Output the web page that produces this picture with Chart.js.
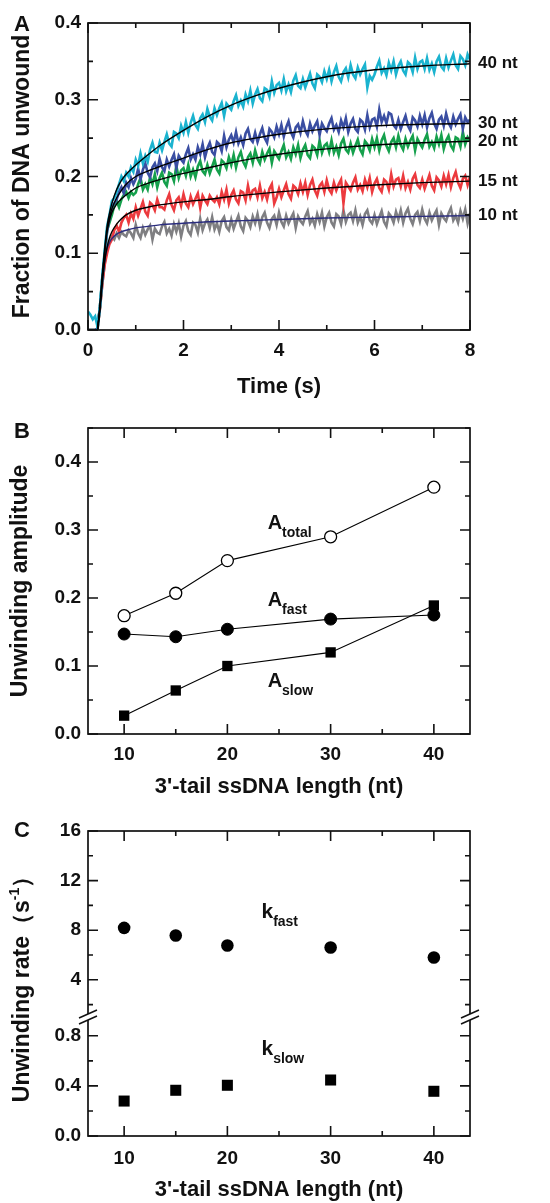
<!DOCTYPE html>
<html>
<head>
<meta charset="utf-8">
<script src="https://cdn.jsdelivr.net/npm/chart.js@4.4.0/dist/chart.umd.min.js"></script>
<style>
  body { margin: 0; background: #fff; width: 550px; height: 1203px; position: relative; overflow: hidden; }
  canvas { position: absolute; left: 0; }
</style>
</head>
<body>
<canvas id="chartA" width="550" height="400" style="top:0px"></canvas>
<canvas id="chartB" width="550" height="400" style="top:400px"></canvas>
<canvas id="chartC" width="550" height="403" style="top:800px"></canvas>
<script>
// ---- panel A : unwinding time courses (one row = 1 s) ----
const time = [0,0.05,0.1,0.15,0.2,0.25,0.3,0.35,0.4,0.45,0.5,0.55,0.6,0.65,0.7,0.75,0.8,0.85,0.9,0.95,
  1,1.05,1.1,1.15,1.2,1.25,1.3,1.35,1.4,1.45,1.5,1.55,1.6,1.65,1.7,1.75,1.8,1.85,1.9,1.95,
  2,2.05,2.1,2.15,2.2,2.25,2.3,2.35,2.4,2.45,2.5,2.55,2.6,2.65,2.7,2.75,2.8,2.85,2.9,2.95,
  3,3.05,3.1,3.15,3.2,3.25,3.3,3.35,3.4,3.45,3.5,3.55,3.6,3.65,3.7,3.75,3.8,3.85,3.9,3.95,
  4,4.05,4.1,4.15,4.2,4.25,4.3,4.35,4.4,4.45,4.5,4.55,4.6,4.65,4.7,4.75,4.8,4.85,4.9,4.95,
  5,5.05,5.1,5.15,5.2,5.25,5.3,5.35,5.4,5.45,5.5,5.55,5.6,5.65,5.7,5.75,5.8,5.85,5.9,5.95,
  6,6.05,6.1,6.15,6.2,6.25,6.3,6.35,6.4,6.45,6.5,6.55,6.6,6.65,6.7,6.75,6.8,6.85,6.9,6.95,
  7,7.05,7.1,7.15,7.2,7.25,7.3,7.35,7.4,7.45,7.5,7.55,7.6,7.65,7.7,7.75,7.8,7.85,7.9,7.95,
  8];

const trace40 = [0.024,0.02,0.014,0.018,0.004,0.03,0.07,0.103,0.135,0.15,0.168,0.172,0.18,0.19,0.2,0.194,0.205,0.2,0.212,0.206,
  0.222,0.214,0.23,0.217,0.227,0.219,0.235,0.244,0.232,0.231,0.244,0.234,0.245,0.255,0.243,0.239,0.258,0.256,0.25,0.266,
  0.257,0.271,0.257,0.27,0.279,0.267,0.262,0.276,0.281,0.271,0.288,0.278,0.273,0.289,0.28,0.289,0.296,0.279,0.295,0.291,
  0.287,0.298,0.306,0.292,0.299,0.291,0.307,0.298,0.312,0.295,0.307,0.314,0.302,0.298,0.315,0.313,0.304,0.324,0.309,0.319,
  0.322,0.312,0.327,0.311,0.32,0.31,0.325,0.332,0.318,0.315,0.327,0.316,0.325,0.334,0.321,0.315,0.333,0.33,0.323,0.337,
  0.327,0.339,0.324,0.336,0.344,0.33,0.324,0.336,0.341,0.329,0.345,0.333,0.328,0.342,0.333,0.34,0.346,0.316,0.331,0.326,
  0.333,0.343,0.351,0.335,0.341,0.332,0.348,0.338,0.35,0.333,0.344,0.35,0.338,0.333,0.349,0.346,0.336,0.355,0.34,0.349,
  0.351,0.34,0.354,0.339,0.347,0.336,0.35,0.356,0.343,0.339,0.354,0.342,0.351,0.359,0.345,0.34,0.357,0.353,0.345,0.359,
  0.352];
const trace30 = [0,0,0,0,0.002,0.03,0.068,0.1,0.128,0.146,0.16,0.165,0.17,0.18,0.186,0.178,0.192,0.186,0.198,0.19,
  0.197,0.21,0.196,0.209,0.217,0.205,0.199,0.212,0.217,0.207,0.223,0.212,0.207,0.222,0.213,0.222,0.229,0.211,0.227,0.222,
  0.218,0.229,0.237,0.222,0.229,0.222,0.238,0.229,0.242,0.225,0.237,0.244,0.232,0.228,0.245,0.242,0.233,0.253,0.238,0.248,
  0.254,0.244,0.258,0.243,0.251,0.241,0.256,0.262,0.249,0.245,0.257,0.245,0.255,0.263,0.25,0.244,0.262,0.258,0.251,0.265,
  0.255,0.267,0.252,0.264,0.272,0.258,0.251,0.264,0.268,0.257,0.272,0.26,0.254,0.269,0.259,0.266,0.272,0.254,0.269,0.263,
  0.259,0.269,0.276,0.261,0.267,0.258,0.273,0.264,0.276,0.258,0.269,0.275,0.262,0.258,0.274,0.271,0.261,0.28,0.264,0.274,
  0.276,0.265,0.287,0.271,0.279,0.269,0.283,0.281,0.267,0.263,0.274,0.262,0.271,0.279,0.266,0.26,0.277,0.273,0.265,0.279,
  0.268,0.28,0.264,0.276,0.283,0.269,0.262,0.274,0.278,0.266,0.282,0.27,0.264,0.278,0.268,0.275,0.281,0.262,0.277,0.271,
  0.274];
const trace20 = [0,0,0,0,0.002,0.03,0.068,0.1,0.13,0.14,0.15,0.162,0.168,0.16,0.17,0.176,0.18,0.172,0.18,0.176,
  0.179,0.19,0.198,0.183,0.19,0.183,0.199,0.19,0.203,0.186,0.198,0.205,0.193,0.188,0.205,0.203,0.194,0.214,0.198,0.208,
  0.211,0.201,0.215,0.2,0.209,0.199,0.213,0.22,0.207,0.203,0.215,0.204,0.213,0.222,0.209,0.204,0.221,0.218,0.211,0.225,
  0.215,0.228,0.212,0.225,0.232,0.219,0.213,0.225,0.23,0.218,0.234,0.223,0.217,0.232,0.222,0.23,0.236,0.218,0.233,0.228,
  0.223,0.233,0.241,0.225,0.232,0.223,0.238,0.229,0.241,0.224,0.235,0.241,0.228,0.224,0.24,0.237,0.228,0.247,0.231,0.24,
  0.243,0.232,0.247,0.231,0.239,0.228,0.243,0.249,0.235,0.231,0.243,0.231,0.24,0.248,0.235,0.229,0.246,0.242,0.234,0.249,
  0.238,0.25,0.234,0.247,0.254,0.24,0.233,0.245,0.25,0.238,0.253,0.241,0.235,0.249,0.239,0.247,0.253,0.234,0.249,0.243,
  0.238,0.248,0.255,0.239,0.245,0.237,0.252,0.242,0.254,0.236,0.247,0.253,0.24,0.235,0.251,0.249,0.239,0.258,0.242,0.251,
  0.246];
const trace15 = [0,0,0,0,0.002,0.028,0.06,0.085,0.1,0.112,0.118,0.13,0.136,0.128,0.14,0.146,0.15,0.14,0.152,0.145,
  0.16,0.149,0.158,0.167,0.154,0.149,0.166,0.163,0.156,0.17,0.16,0.16,0.157,0.169,0.177,0.163,0.156,0.169,0.173,0.162,
  0.177,0.165,0.16,0.174,0.164,0.171,0.178,0.159,0.175,0.169,0.164,0.175,0.17,0.167,0.173,0.164,0.18,0.17,0.183,0.165,
  0.176,0.182,0.17,0.165,0.181,0.179,0.169,0.188,0.173,0.182,0.184,0.173,0.188,0.172,0.18,0.17,0.184,0.19,0.165,0.173,
  0.184,0.173,0.182,0.19,0.177,0.171,0.188,0.185,0.177,0.191,0.18,0.192,0.176,0.189,0.196,0.182,0.175,0.188,0.192,0.18,
  0.195,0.183,0.178,0.192,0.182,0.19,0.196,0.165,0.192,0.187,0.182,0.192,0.199,0.183,0.189,0.181,0.196,0.186,0.198,0.18,
  0.191,0.197,0.185,0.18,0.196,0.193,0.183,0.203,0.187,0.196,0.198,0.187,0.201,0.185,0.193,0.183,0.197,0.203,0.189,0.185,
  0.196,0.184,0.193,0.202,0.188,0.182,0.199,0.195,0.187,0.201,0.19,0.202,0.186,0.198,0.206,0.192,0.185,0.197,0.201,0.189,
  0.2];
const trace10 = [0,0,0,0,0.002,0.028,0.06,0.088,0.108,0.116,0.122,0.118,0.126,0.12,0.128,0.124,0.122,0.13,0.126,0.12,
  0.137,0.126,0.12,0.133,0.124,0.131,0.136,0.118,0.132,0.127,0.125,0.135,0.141,0.126,0.132,0.123,0.138,0.128,0.139,0.122,
  0.136,0.142,0.129,0.124,0.14,0.137,0.127,0.145,0.13,0.139,0.144,0.133,0.147,0.131,0.139,0.128,0.142,0.147,0.134,0.13,
  0.144,0.132,0.141,0.149,0.135,0.129,0.146,0.142,0.134,0.148,0.139,0.151,0.135,0.147,0.153,0.14,0.133,0.145,0.149,0.137,
  0.153,0.141,0.135,0.149,0.139,0.146,0.152,0.133,0.148,0.142,0.138,0.148,0.155,0.139,0.145,0.136,0.151,0.141,0.153,0.135,
  0.147,0.153,0.14,0.135,0.151,0.148,0.138,0.156,0.141,0.15,0.153,0.142,0.156,0.14,0.148,0.137,0.151,0.156,0.143,0.139,
  0.15,0.138,0.147,0.155,0.141,0.135,0.152,0.148,0.14,0.154,0.144,0.156,0.14,0.152,0.158,0.145,0.138,0.15,0.154,0.142,
  0.157,0.145,0.139,0.153,0.143,0.15,0.156,0.137,0.152,0.146,0.142,0.152,0.159,0.143,0.149,0.14,0.155,0.145,0.157,0.139,
  0.152];

// fitted curves
const fitTime = [0.2,0.25,0.3,0.35,0.4,0.45,0.5,0.6,0.7,0.8,1.0,1.25,1.5,2,2.5,3,3.5,4,5,6,7,8];
const fit40 = [0,0.03,0.07,0.105,0.135,0.152,0.165,0.183,0.195,0.203,0.215,0.228,0.24,0.26,0.278,0.293,0.305,0.315,0.33,0.339,0.344,0.347];
const fit30 = [0,0.03,0.07,0.103,0.13,0.147,0.158,0.172,0.182,0.19,0.2,0.207,0.213,0.224,0.235,0.244,0.25,0.255,0.262,0.266,0.268,0.269];
const fit20 = [0,0.03,0.07,0.102,0.128,0.143,0.153,0.164,0.171,0.176,0.185,0.191,0.196,0.204,0.211,0.218,0.224,0.229,0.236,0.241,0.244,0.246];
const fit15 = [0,0.028,0.062,0.09,0.108,0.12,0.128,0.138,0.145,0.15,0.156,0.16,0.163,0.167,0.17,0.174,0.177,0.18,0.185,0.189,0.192,0.194];
const fit10 = [0,0.028,0.062,0.09,0.106,0.114,0.119,0.125,0.128,0.13,0.133,0.135,0.137,0.139,0.141,0.142,0.143,0.144,0.146,0.147,0.148,0.149];
const traceLabels = ['40 nt', '30 nt', '20 nt', '15 nt', '10 nt'];

// ---- panel B : amplitudes ----
const lengths = [10, 15, 20, 30, 40];
const aTotal = [0.174, 0.207, 0.255, 0.290, 0.363];
const aFast = [0.147, 0.143, 0.154, 0.169, 0.175];
const aSlow = [0.027, 0.064, 0.100, 0.120, 0.189];

// ---- panel C : rates ----
const kFast = [8.19, 7.57, 6.77, 6.6, 5.8];
const kSlow = [0.279, 0.365, 0.405, 0.447, 0.357];

const FONT = "'Liberation Sans', Arial, Helvetica, sans-serif";
Chart.defaults.font.family = FONT;
Chart.defaults.font.weight = 'bold';
Chart.defaults.color = '#111';

const pts = (xs, ys) => ys.map((v, i) => ({x: xs[i], y: v}));

// box frame + inward ticks on all four sides
const frameTicks = {
  id: 'frameTicks',
  afterDatasetsDraw(chart) {
    const ctx = chart.ctx, a = chart.chartArea;
    ctx.save();
    ctx.strokeStyle = '#111';
    ctx.lineWidth = 1.7;
    ctx.strokeRect(a.left, a.top, a.right - a.left, a.bottom - a.top);
    ctx.lineWidth = 1.6;
    const tickSet = (scale) => {
      const major = scale.ticks.map(t => t.value);
      const step = major[1] - major[0];
      const minor = [];
      for (let v = major[0] - step / 2; v <= scale.max + 1e-9; v += step) {
        if (v >= scale.min - 1e-9) minor.push(v);
      }
      return {major, minor};
    };
    Object.values(chart.scales).forEach(scale => {
      const {major, minor} = tickSet(scale);
      const draw = (v, len) => {
        const p = scale.getPixelForValue(v);
        ctx.beginPath();
        if (scale.isHorizontal()) {
          ctx.moveTo(p, a.bottom); ctx.lineTo(p, a.bottom - len);
          ctx.moveTo(p, a.top); ctx.lineTo(p, a.top + len);
        } else {
          ctx.moveTo(a.left, p); ctx.lineTo(a.left + len, p);
          ctx.moveTo(a.right, p); ctx.lineTo(a.right - len, p);
        }
        ctx.stroke();
      };
      major.forEach(v => draw(v, 10));
      minor.forEach(v => draw(v, 5));
    });
    ctx.restore();
  }
};

function panelLetter(ctx, letter, x, y) {
  ctx.save();
  ctx.fillStyle = '#111';
  ctx.font = `bold 22px ${FONT}`;
  ctx.textBaseline = 'alphabetic';
  ctx.fillText(letter, x, y);
  ctx.restore();
}

function subLabel(ctx, x, y, main, sub, size, subSize) {
  ctx.save();
  ctx.fillStyle = '#111';
  ctx.textBaseline = 'alphabetic';
  ctx.font = `bold ${size}px ${FONT}`;
  ctx.fillText(main, x, y);
  const w = ctx.measureText(main).width;
  ctx.font = `bold ${subSize}px ${FONT}`;
  ctx.fillText(sub, x + w, y + 8);
  ctx.restore();
}

const baseOpts = {
  responsive: false,
  animation: false,
  devicePixelRatio: 1,
  plugins: { legend: { display: false }, tooltip: { enabled: false } },
};

const axisCommon = {
  grid: { display: false, drawTicks: false },
  border: { display: false },
};

// ---------- Panel A ----------
const traceColors = ['#1bb3cf', '#3a4ea2', '#15a04c', '#ec3a3e', '#7f7f82'];
const traces = [trace40, trace30, trace20, trace15, trace10];
const fits = [fit40, fit30, fit20, fit15, fit10];
const fitColors = ['#000', '#000', '#000', '#000', '#2b2d7e'];

new Chart(document.getElementById('chartA'), {
  type: 'line',
  data: {
    datasets: [
      ...fits.map((f, i) => ({
        data: pts(fitTime, f), borderColor: fitColors[i], borderWidth: 1.4,
        cubicInterpolationMode: 'monotone', pointRadius: 0
      })),
      ...traces.map((t, i) => ({
        data: pts(time, t), borderColor: traceColors[i], borderWidth: 2.6,
        tension: 0, pointRadius: 0
      }))
    ]
  },
  options: {
    ...baseOpts,
    layout: { padding: { left: 0, right: 80, top: 23, bottom: 0 } },
    scales: {
      x: {
        ...axisCommon, type: 'linear', min: 0, max: 8,
        ticks: { stepSize: 2, includeBounds: false, padding: 9, font: { size: 19 } },
        title: { display: true, text: 'Time (s)', font: { size: 22, lineHeight: 1 }, padding: { top: 0, bottom: 2 } },
        afterFit: s => { s.height = 70; }
      },
      y: {
        ...axisCommon, type: 'linear', min: 0, max: 0.4,
        ticks: { stepSize: 0.1, includeBounds: false, padding: 7, font: { size: 19 }, callback: v => v.toFixed(1) },
        title: { display: true, text: 'Fraction of DNA unwound', font: { size: 23, lineHeight: 1 }, padding: { top: 11, bottom: 0 } },
        afterFit: s => { s.width = 88; }
      }
    }
  },
  plugins: [frameTicks, {
    id: 'labelsA',
    afterDraw(chart) {
      const ctx = chart.ctx, y = chart.scales.y, a = chart.chartArea;
      ctx.save();
      ctx.fillStyle = '#111';
      ctx.font = `bold 17px ${FONT}`;
      ctx.textBaseline = 'middle';
      fits.forEach((f, i) => ctx.fillText(traceLabels[i], a.right + 8, y.getPixelForValue(f[f.length - 1])));
      ctx.restore();
      panelLetter(ctx, 'A', 14, 31);
    }
  }]
});

// ---------- Panel B ----------
new Chart(document.getElementById('chartB'), {
  type: 'line',
  data: {
    datasets: [
      { data: pts(lengths, aFast), borderColor: '#000', borderWidth: 1.1, pointStyle: 'circle',
        pointRadius: 6, pointBackgroundColor: '#000', pointBorderColor: '#000', pointBorderWidth: 1 },
      { data: pts(lengths, aSlow), borderColor: '#000', borderWidth: 1.1, pointStyle: 'rect',
        pointRadius: 7.3, pointBackgroundColor: '#000', pointBorderColor: '#000', pointBorderWidth: 0 },
      { data: pts(lengths, aTotal), borderColor: '#000', borderWidth: 1.1, pointStyle: 'circle',
        pointRadius: 6, pointBackgroundColor: '#fff', pointBorderColor: '#000', pointBorderWidth: 1.3 }
    ]
  },
  options: {
    ...baseOpts,
    layout: { padding: { left: 0, right: 80, top: 28, bottom: 0 } },
    scales: {
      x: {
        ...axisCommon, type: 'linear', min: 6.5, max: 43.5,
        ticks: { stepSize: 10, includeBounds: false, padding: 9, font: { size: 19 } },
        title: { display: true, text: "3'-tail ssDNA length (nt)", font: { size: 22, lineHeight: 1 }, padding: { top: 0, bottom: 2 } },
        afterFit: s => { s.height = 66; }
      },
      y: {
        ...axisCommon, type: 'linear', min: 0, max: 0.45,
        ticks: { stepSize: 0.1, includeBounds: false, padding: 7, font: { size: 19 }, callback: v => v.toFixed(1) },
        title: { display: true, text: 'Unwinding amplitude', font: { size: 23, lineHeight: 1 }, padding: { top: 9, bottom: 0 } },
        afterFit: s => { s.width = 88; }
      }
    }
  },
  plugins: [frameTicks, {
    id: 'labelsB',
    afterDraw(chart) {
      const ctx = chart.ctx, x = chart.scales.x, y = chart.scales.y;
      subLabel(ctx, x.getPixelForValue(23.9), y.getPixelForValue(0.302), 'A', 'total', 20, 14);
      subLabel(ctx, x.getPixelForValue(23.9), y.getPixelForValue(0.188), 'A', 'fast', 20, 14);
      subLabel(ctx, x.getPixelForValue(23.9), y.getPixelForValue(0.069), 'A', 'slow', 20, 14);
      panelLetter(ctx, 'B', 14, 38);
    }
  }]
});

// ---------- Panel C (broken y axis) ----------
new Chart(document.getElementById('chartC'), {
  type: 'line',
  data: {
    datasets: [
      { data: pts(lengths, kFast), yAxisID: 'yHigh', showLine: false, pointStyle: 'circle',
        pointRadius: 6.3, pointBackgroundColor: '#000', pointBorderColor: '#000', pointBorderWidth: 0 },
      { data: pts(lengths, kSlow), yAxisID: 'yLow', showLine: false, pointStyle: 'rect',
        pointRadius: 7.8, pointBackgroundColor: '#000', pointBorderColor: '#000', pointBorderWidth: 0 }
    ]
  },
  options: {
    ...baseOpts,
    layout: { padding: { left: 0, right: 80, top: 31, bottom: 0 } },
    scales: {
      x: {
        ...axisCommon, type: 'linear', min: 6.5, max: 43.5,
        ticks: { stepSize: 10, includeBounds: false, padding: 11, font: { size: 19 } },
        title: { display: true, text: "3'-tail ssDNA length (nt)", font: { size: 22, lineHeight: 1 }, padding: { top: 0, bottom: 2 } },
        afterFit: s => { s.height = 67; }
      },
      yLow: {
        ...axisCommon, type: 'linear', position: 'left', stack: 'rate', stackWeight: 119,
        min: 0, max: 0.95,
        ticks: { stepSize: 0.4, includeBounds: false, padding: 7, font: { size: 19 }, callback: v => v.toFixed(1) },
        afterFit: s => { s.width = 88; }
      },
      yHigh: {
        ...axisCommon, type: 'linear', position: 'left', stack: 'rate', stackWeight: 186,
        min: 1, max: 16,
        ticks: { stepSize: 4, includeBounds: false, padding: 7, font: { size: 19 } },
        afterFit: s => { s.width = 88; }
      }
    }
  },
  plugins: [frameTicks, {
    id: 'labelsC',
    afterDraw(chart) {
      const ctx = chart.ctx, a = chart.chartArea, x = chart.scales.x;
      const hi = chart.scales.yHigh, lo = chart.scales.yLow;
      // axis break marks
      const yb = (hi.bottom + lo.top) / 2;
      ctx.save();
      [a.left, a.right].forEach(xa => {
        ctx.fillStyle = '#fff';
        ctx.fillRect(xa - 2, yb - 3, 4, 6);
        ctx.strokeStyle = '#111';
        ctx.lineWidth = 1.4;
        [-3, 3].forEach(d => {
          ctx.beginPath();
          ctx.moveTo(xa - 9, yb + d + 4);
          ctx.lineTo(xa + 9, yb + d - 4);
          ctx.stroke();
        });
      });
      ctx.restore();
      // y title with superscript
      ctx.save();
      ctx.fillStyle = '#111';
      ctx.translate(23, (a.top + a.bottom) / 2);
      ctx.rotate(-Math.PI / 2);
      ctx.textBaseline = 'middle';
      const main = 'Unwinding rate\uFF08s', sup = '-1', end = '\uFF09';
      ctx.font = `bold 23px ${FONT}`;
      const w1 = ctx.measureText(main).width, w3 = ctx.measureText(end).width;
      ctx.font = `bold 14px ${FONT}`;
      const w2 = ctx.measureText(sup).width;
      let sx = -(w1 + w2 + w3) / 2;
      ctx.font = `bold 23px ${FONT}`;
      ctx.fillText(main, sx, 0);
      ctx.font = `bold 14px ${FONT}`;
      ctx.fillText(sup, sx + w1, -8);
      ctx.font = `bold 23px ${FONT}`;
      ctx.fillText(end, sx + w1 + w2, 0);
      ctx.restore();
      subLabel(ctx, x.getPixelForValue(23.3), hi.getPixelForValue(8.97), 'k', 'fast', 21, 14);
      subLabel(ctx, x.getPixelForValue(23.3), lo.getPixelForValue(0.646), 'k', 'slow', 21, 14);
      panelLetter(ctx, 'C', 14, 37);
    }
  }]
});
</script>
</body>
</html>
